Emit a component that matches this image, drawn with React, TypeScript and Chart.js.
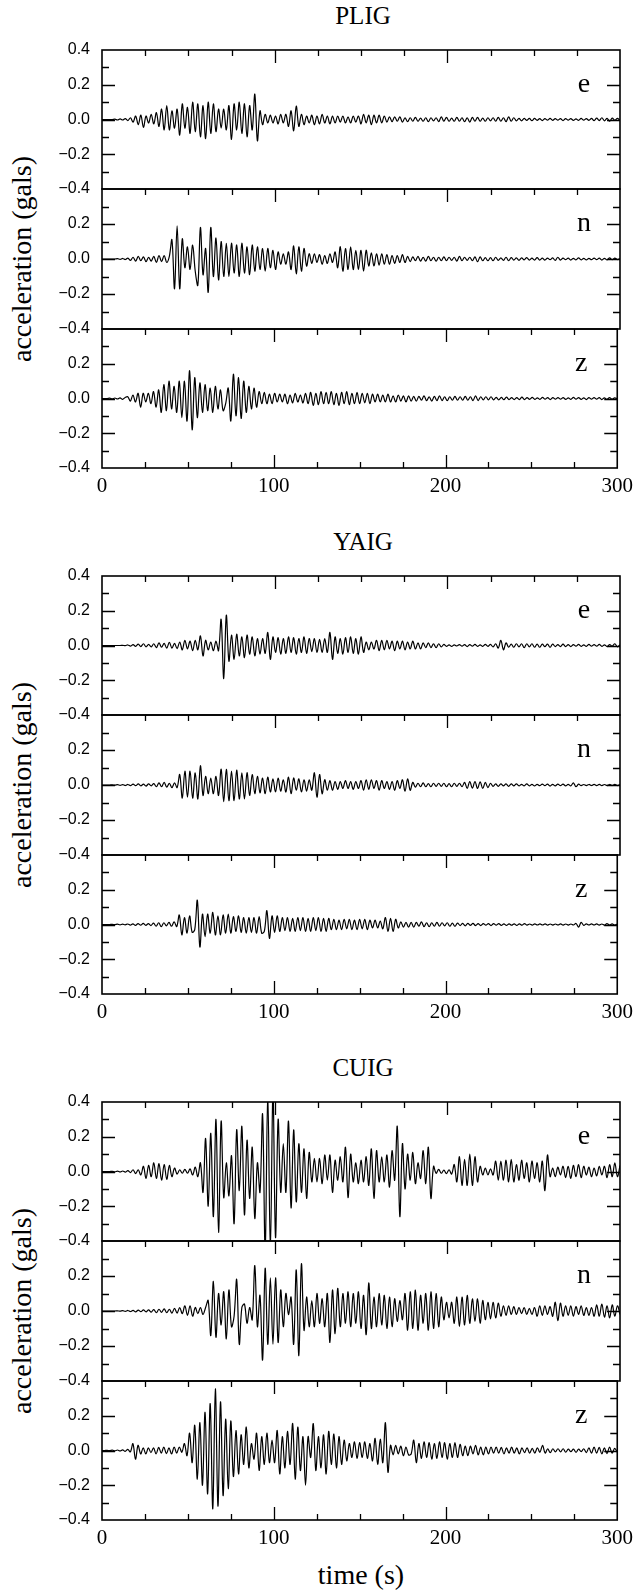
import React, { useEffect, useRef } from "react";
import { Chart, registerables } from "chart.js";

Chart.register(...registerables);

// ---- data -----------------------------------------------------------------
const SAMPLE_INTERVAL_S = 1.5; // one value every 1.5 s, 0 .. 300 s
const STATIONS = ["PLIG", "YAIG", "CUIG"];
const COMPONENTS = ["e", "n", "z"];
const X_LABEL_TICKS = [0, 100, 200, 300];
const X_MINOR_TICKS = [25, 50, 75, 100, 125, 150, 175, 200, 225, 250, 275];
const X_MAJOR_TICKS = [100, 200];
const Y_LABEL_TICKS = [-0.4, -0.2, 0, 0.2, 0.4];
const Y_MINOR_TICKS = [-0.3, -0.2, -0.1, 0, 0.1, 0.2, 0.3];
const Y_MAJOR_TICKS = [-0.2, 0, 0.2];

const PLIG_E = [
  0, 0, 0, 0, 0, .002, -.003, .004, -.003, .005,
  -.006, .01, -.015, .02, -.03, .025, -.045, .02, -.02, .03,
  -.025, .04, -.04, .06, -.06, .08, -.06, .05, -.05, .06,
  -.09, .09, -.05, .07, -.08, .1, -.07, .09, -.1, .08,
  -.11, .1, -.08, .09, -.07, .06, -.05, .06, -.06, .08,
  -.115, .09, -.06, .1, -.08, .09, -.1, .08, -.06, .146,
  -.123, .05, -.03, .03, -.02, .025, -.02, .02, -.025, .03,
  -.02, .03, -.04, .05, -.065, .077, -.04, .03, -.03, .02,
  -.02, .025, -.03, .02, -.025, .03, -.02, .02, -.025, .02,
  -.02, .02, -.015, .02, -.02, .015, -.02, .02, -.015, .02,
  -.025, .03, -.02, .025, -.03, .025, -.02, .025, -.02, .02,
  -.015, .015, -.012, .015, -.01, .015, -.015, .01, -.012, .01,
  -.01, .012, -.01, .008, -.01, .01, -.012, .01, -.008, .01,
  -.012, .015, -.01, .012, -.01, .008, -.01, .012, -.01, .01,
  -.012, .01, -.015, .012, -.01, .012, -.01, .008, -.01, .01,
  -.008, .01, -.01, .012, -.01, .01, -.012, .015, -.01, .01,
  -.008, .006, -.008, .006, -.005, .006, -.007, .006, -.005, .005,
  -.006, .005, -.004, .006, -.005, .005, -.004, .005, -.006, .005,
  -.004, .005, -.005, .004, -.005, .006, -.004, .005, -.005, .006,
  -.006, .008, -.006, .01, -.008, .006, -.01, .008, -.005, .006,
  -.005,
];
const PLIG_N = [
  0, 0, 0, 0, 0, 0, .002, -.002, .003, -.003,
  .005, -.008, .01, -.012, .015, -.01, .012, -.015, .01, -.012,
  .015, -.02, .02, -.015, .02, -.02, .015, .11, -.17, .19,
  -.17, .115, -.05, .07, -.06, .08, -.07, -.15, .18, -.09,
  .06, -.19, .18, -.1, .12, -.12, .1, -.1, .09, -.1,
  .09, -.08, .08, -.1, .09, -.08, .07, -.09, .08, -.07,
  .07, -.06, .06, -.07, .06, -.05, .05, -.06, .04, -.03,
  .03, -.03, .04, -.06, .075, -.085, .07, -.07, .06, -.04,
  .03, -.025, .03, -.02, .025, -.03, .02, -.025, .03, -.02,
  .04, -.05, .07, -.07, .06, -.06, .07, -.06, .05, -.06,
  .05, -.07, .05, -.04, .035, -.04, .03, -.035, .03, -.03,
  .025, -.03, .02, -.025, .02, -.02, .025, -.02, .015, -.015,
  .012, -.01, .015, -.012, .01, -.012, .015, -.01, .01, -.012,
  .01, -.01, .012, -.01, .01, -.008, .01, -.012, .015, -.01,
  .01, -.008, .01, -.01, .012, -.015, .012, -.01, .008, -.01,
  .008, -.01, .01, -.008, .006, -.008, .01, -.01, .008, -.006,
  .006, -.008, .006, -.005, .008, -.006, .005, -.006, .008, -.006,
  .005, -.006, .005, -.004, .006, -.008, .01, -.006, .005, -.004,
  .005, -.006, .004, -.005, .006, -.005, .004, -.005, .004, -.004,
  .005, -.004, .005, -.006, .004, -.005, .006, -.004, .005, -.003,
  .002,
];
const PLIG_Z = [
  0, 0, 0, .002, -.002, .003, -.003, .004, -.005, .006,
  .01, -.015, .02, -.02, .03, -.05, .03, -.02, .03, -.03,
  .04, -.05, .05, -.08, .08, -.07, .1, -.06, .07, -.08,
  .1, -.11, .1, -.13, .16, -.18, .12, -.11, .09, -.08,
  .08, -.07, .06, -.08, .07, -.06, .05, -.07, -.03, .06,
  -.13, .14, -.1, .12, -.115, .1, -.08, .07, -.06, .06,
  -.05, .04, -.03, .035, -.03, .025, -.03, .03, -.02, .025,
  -.02, .025, -.03, .02, -.025, .03, -.02, .02, -.025, .03,
  -.03, .035, -.04, .03, -.035, .04, -.03, .035, -.03, .04,
  -.035, .03, -.04, .035, -.03, .04, -.035, .03, -.03, .035,
  -.03, .03, -.025, .03, -.03, .025, -.02, .025, -.02, .02,
  -.02, .025, -.02, .015, -.02, .02, -.015, .015, -.02, .015,
  -.015, .012, -.015, .012, -.01, .015, -.012, .01, -.015, .012,
  -.012, .015, -.012, .01, -.012, .01, -.01, .012, -.01, .01,
  -.01, .012, -.01, .01, -.012, .015, -.012, .01, -.008, .01,
  -.008, .01, -.008, .006, -.008, .006, -.007, .008, -.006, .005,
  -.006, .005, -.006, .008, -.006, .005, -.005, .006, -.005, .004,
  -.005, .006, -.004, .005, -.006, .005, -.004, .005, -.004, .005,
  -.005, .004, -.005, .006, -.004, .005, -.005, .004, -.006, .005,
  -.004, .005, -.004, .005, -.006, .004, -.005, .005, -.004, .004,
  -.002,
];
const YAIG_E = [
  0, 0, 0, 0, 0, 0, 0, 0, .001, -.001,
  .003, -.004, .005, -.005, .008, -.006, .01, -.008, .006, -.008,
  .01, -.012, .015, -.01, .012, -.015, .018, -.015, .012, -.018,
  .02, -.025, .03, -.02, .025, -.03, .03, -.025, .055, -.06,
  .03, -.025, .02, -.03, .025, -.03, .15, -.19, .175, -.09,
  .06, -.08, .065, -.06, .05, -.07, .06, -.05, .05, -.06,
  .04, -.05, .04, -.045, .075, -.08, .05, -.04, .045, -.05,
  .04, -.045, .05, -.04, .045, -.05, .04, -.04, .05, -.045,
  .04, -.035, .04, -.04, .035, -.04, .04, -.04, .075, -.08,
  .05, -.045, .04, -.05, .045, -.04, .05, -.045, .04, -.05,
  .05, -.04, .02, -.025, .02, -.02, .03, -.03, .03, -.025,
  .03, -.02, .025, -.03, .025, -.02, .025, -.025, .02, -.02,
  .025, -.02, .015, -.02, .015, -.012, .015, -.012, .01, -.012,
  .01, -.008, .006, -.005, .004, -.005, .004, -.003, .005, -.004,
  .005, -.006, .005, -.004, .006, -.005, .004, -.005, .006, -.005,
  .006, -.008, .01, -.015, .03, -.025, .015, -.01, .008, -.01,
  .01, -.008, .01, -.012, .01, -.008, .01, -.01, .008, -.01,
  .008, -.006, .008, -.01, .008, -.006, .005, -.006, .008, -.006,
  .005, -.006, .005, -.004, .006, -.005, .004, -.005, .006, -.004,
  .005, -.004, .006, -.005, .004, -.006, .005, -.004, .01, -.008,
  .004,
];
const YAIG_N = [
  0, 0, 0, 0, .001, -.001, .002, -.002, .002, -.003,
  .003, -.004, .005, -.004, .006, -.005, .005, -.006, .006, -.005,
  .008, -.01, .012, -.01, .015, -.012, .01, -.015, .012, -.015,
  .06, -.075, .08, -.07, .08, -.075, .07, -.08, .11, -.06,
  .05, -.05, .04, -.05, .05, -.06, .09, -.095, .09, -.09,
  .08, -.09, .085, -.08, .07, -.08, .07, -.06, .06, -.05,
  .05, -.045, .04, -.05, .045, -.04, .035, -.04, .04, -.035,
  .03, -.04, .045, -.05, .04, -.03, .035, -.04, .03, -.035,
  .03, -.03, .07, -.07, .06, -.05, .03, -.03, .025, -.03,
  .02, -.025, .02, -.02, .025, -.02, .02, -.025, .02, -.02,
  .025, -.03, .03, -.025, .03, -.02, .025, -.03, .025, -.02,
  .02, -.025, .02, -.03, .025, -.02, .03, -.035, .035, -.03,
  .015, -.012, .01, -.01, .012, -.01, .008, -.01, .01, -.008,
  .01, -.008, .01, -.01, .008, -.01, .01, -.008, .01, -.01,
  .015, -.02, .02, -.018, .02, -.02, .018, -.02, .015, -.015,
  .01, -.008, .006, -.008, .006, -.005, .006, -.008, .006, -.005,
  .006, -.005, .004, -.005, .006, -.005, .004, -.005, .004, -.004,
  .005, -.004, .005, -.006, .004, -.005, .005, -.004, .005, -.005,
  .004, -.005, .012, -.01, .005, -.004, .003, -.004, .003, -.003,
  .004, -.003, .004, -.004, .003, -.004, .003, -.003, .004, -.003,
  .002,
];
const YAIG_Z = [
  0, 0, 0, 0, .001, -.001, .002, -.002, .002, -.002,
  .003, -.004, .004, -.005, .005, -.004, .006, -.005, .005, -.006,
  .008, -.01, .01, -.012, .01, -.008, .012, -.01, .015, -.012,
  .055, -.06, .04, -.05, .05, -.045, -.03, .14, -.13, .06,
  -.07, .06, -.05, .07, -.06, .05, -.06, .055, -.05, .06,
  -.05, .045, -.04, .05, -.045, .04, -.05, .04, -.045, .04,
  -.05, .045, -.05, -.04, .08, -.08, .05, -.045, .05, -.04,
  .04, -.035, .04, -.04, .035, -.04, .04, -.035, .04, -.04,
  .035, -.04, .04, -.035, .04, -.04, .035, -.04, .035, -.03,
  .03, -.03, .025, -.03, .03, -.025, .03, -.03, .025, -.03,
  .03, -.025, .03, -.03, .025, -.02, .025, -.02, .02, -.025,
  .04, -.04, .035, -.04, .03, -.02, .015, -.015, .012, -.015,
  .012, -.015, .012, -.01, .015, -.012, .01, -.012, .01, -.01,
  .012, -.01, .01, -.008, .01, -.01, .008, -.01, .008, -.006,
  .006, -.008, .006, -.005, .006, -.006, .005, -.006, .005, -.004,
  .005, -.006, .005, -.004, .005, -.005, .004, -.005, .004, -.004,
  .004, -.005, .004, -.004, .005, -.004, .003, -.004, .004, -.003,
  .004, -.003, .004, -.004, .003, -.004, .003, -.003, .004, -.004,
  .003, -.004, .003, -.003, .006, -.015, .012, -.005, .004, -.003,
  .004, -.003, .004, -.004, .003, -.004, .005, -.003, .004, -.003,
  .002,
];
const CUIG_E = [
  0, 0, 0, 0, .001, -.002, .002, -.003, .003, -.004,
  .005, -.006, .01, -.012, .01, -.02, .03, -.04, .035, -.03,
  .05, -.04, .045, -.05, .04, -.045, .035, -.03, .02, -.015,
  .01, -.01, .012, -.01, .015, -.02, .025, -.03, .05, -.12,
  .19, -.2, .22, -.26, .3, -.35, .29, -.15, .05, -.14,
  .09, -.3, .24, -.11, .26, -.25, .18, -.155, .14, -.27,
  .05, -.12, .33, -.46, .46, -.46, .46, -.38, .3, -.12,
  .16, -.12, .29, -.21, .24, -.175, .16, -.12, .13, -.155,
  .11, -.06, .075, -.06, .075, -.07, .095, -.05, .095, -.12,
  .065, -.05, .085, -.06, .14, -.15, .1, -.06, .05, -.07,
  .065, -.06, .085, -.08, .13, -.155, .12, -.06, .085, -.06,
  .095, -.09, .12, -.05, .26, -.26, .16, -.1, .1, -.05,
  .11, -.07, .05, -.04, .12, -.07, .14, -.155, .03, -.01,
  .012, -.01, .008, -.012, .01, -.015, .04, -.06, .085, -.08,
  .07, -.08, .1, -.08, .085, -.06, .03, -.02, .02, -.02,
  .015, -.02, .06, -.05, .06, -.05, .065, -.06, .07, -.06,
  .04, -.05, .065, -.04, .05, -.06, .06, -.04, .05, -.06,
  .06, -.11, .095, -.03, .02, -.03, .025, -.02, .03, -.035,
  .03, -.04, .035, -.03, .04, -.035, .03, -.02, .025, -.03,
  .02, -.025, .03, -.02, .03, -.035, .04, -.03, .05, -.03,
  .035,
];
const CUIG_N = [
  0, 0, 0, 0, 0, 0, .001, -.001, .002, -.002,
  .003, -.003, .004, -.005, .005, -.004, .006, -.005, .006, -.006,
  .008, -.01, .01, -.008, .012, -.01, .01, -.012, .015, -.012,
  .02, -.015, .03, -.025, .03, -.03, .02, -.015, .02, -.02,
  .02, .06, -.14, .17, -.15, .1, -.08, .11, -.16, .12,
  -.09, -.03, .18, -.19, .02, .04, -.07, .02, -.05, .26,
  -.09, .09, -.28, .245, -.19, .19, -.19, .19, -.18, .12,
  -.09, .1, -.02, .08, -.19, .235, -.255, .27, -.11, .08,
  -.09, .06, -.09, .1, -.07, .07, -.09, .1, -.18, .12,
  -.13, .13, -.09, .1, -.07, .11, -.09, .1, -.07, .11,
  -.1, .09, -.135, .16, -.1, .08, -.09, .1, -.08, .09,
  -.1, .08, -.09, .07, -.06, .06, -.05, .1, -.11, .11,
  -.1, .12, -.11, .09, -.07, .1, -.11, .11, -.1, .1,
  -.09, .08, -.05, .05, -.04, .05, -.07, .08, -.09, .08,
  -.08, .09, -.07, .07, -.06, .07, -.07, .06, -.05, .05,
  -.045, .05, -.04, .045, -.03, .03, -.025, .03, -.02, .025,
  -.02, .02, -.015, .02, -.02, .015, -.02, .02, -.03, .03,
  -.025, .03, -.02, .025, -.03, .05, -.055, .045, -.03, .03,
  -.025, .03, -.03, .025, -.02, .03, -.025, .02, -.025, .02,
  -.03, .035, -.03, .04, -.035, .03, -.04, .035, -.03, .03,
  -.02,
];
const CUIG_Z = [
  0, 0, .001, -.001, .002, -.002, .003, -.003, .004, -.005,
  .006, -.008, .04, -.05, .03, -.02, .015, -.02, .015, -.012,
  .015, -.02, .018, -.015, .02, -.018, .015, -.02, .02, -.015,
  .02, -.01, .04, -.03, .1, -.07, .145, -.165, .16, -.2,
  .22, -.25, .27, -.335, .355, -.32, .28, -.26, .18, -.22,
  .17, -.15, .115, -.135, .09, -.08, .135, -.1, .04, -.05,
  .1, -.115, .08, -.08, .1, -.07, .06, -.07, .115, -.135,
  .08, -.1, .11, -.08, .155, -.165, .135, -.115, .08, -.2,
  .08, -.04, .155, -.115, .08, -.1, .09, -.135, .11, -.08,
  .095, -.1, .08, -.08, .06, -.06, .04, -.04, .05, -.045,
  .045, -.04, .05, -.045, .04, -.06, .07, -.08, .065, -.07,
  .16, -.125, .03, -.025, .03, -.02, .025, -.03, .02, -.025,
  -.02, .06, -.07, .04, -.045, .05, -.04, .045, -.05, .04,
  -.045, .05, -.04, .045, -.05, .04, -.04, .045, -.04, .035,
  -.03, .025, -.03, .025, -.02, .03, -.025, .02, -.025, .02,
  -.02, .02, -.015, .02, -.015, .018, -.02, .015, -.015, .02,
  -.015, .015, -.02, .015, -.012, .015, -.015, .012, -.015, .015,
  -.01, .03, -.015, .01, -.012, .01, -.008, .01, -.008, .01,
  -.01, .008, -.006, .008, -.01, .008, -.006, .01, -.012, .015,
  -.015, .02, -.015, .018, -.02, .015, -.018, .02, -.015, .012,
  -.01,
];

const TRACES = [
  [PLIG_E, PLIG_N, PLIG_Z],
  [YAIG_E, YAIG_N, YAIG_Z],
  [CUIG_E, CUIG_N, CUIG_Z],
];

// ---- layout ---------------------------------------------------------------
const PAGE_W = 639;
const PAGE_H = 1593;
const PLOT_LEFT = 102;
const PLOT_RIGHT = 620;
const GROUP_TOPS = [50, 576, 1102];
const GROUP_H = 418;
const PAD = 30;
const X_AXIS_H = 40;
const BOTTOM_EXTRA = 70;
const SERIF = "'Liberation Serif', 'Times New Roman', serif";
const SANS = "'Liberation Sans', Arial, sans-serif";

function fmtY(v: number) {
  const s = Math.abs(v).toFixed(1);
  return v < -1e-9 ? "\u2212" + s : s;
}

const frameTicksPlugin = {
  id: "frameTicks",
  afterDraw(chart: any, _args: any, opts: any) {
    const { ctx, chartArea: a, scales } = chart;
    const xs = scales.x;
    const ys = scales.y;
    ctx.save();
    ctx.strokeStyle = "#000";
    ctx.lineWidth = 1.3;
    ctx.beginPath();
    for (const v of X_MINOR_TICKS) {
      const px = Math.round(xs.getPixelForValue(v)) + 0.5;
      const len = X_MAJOR_TICKS.includes(v) ? 13 : 6;
      ctx.moveTo(px, a.top);
      ctx.lineTo(px, a.top + len);
      if (opts.bottomTicks) {
        ctx.moveTo(px, a.bottom);
        ctx.lineTo(px, a.bottom - len);
      }
    }
    for (const v of Y_MINOR_TICKS) {
      const py = Math.round(ys.getPixelForValue(v)) + 0.5;
      const len = Y_MAJOR_TICKS.includes(v) ? 13 : 7;
      ctx.moveTo(a.left, py);
      ctx.lineTo(a.left + len, py);
      ctx.moveTo(a.right, py);
      ctx.lineTo(a.right - len, py);
    }
    ctx.stroke();
    ctx.lineWidth = 1.6;
    ctx.strokeRect(a.left, a.top, a.right - a.left, a.bottom - a.top);
    ctx.fillStyle = "#000";
    ctx.font = "28px " + SERIF;
    ctx.textAlign = "center";
    ctx.textBaseline = "alphabetic";
    ctx.fillText(opts.label, a.right - 36, ys.getPixelForValue(0.2) + 7);
    ctx.restore();
  },
};

function makeConfig(values: number[], comp: string, isLast: boolean, hideTop: boolean): any {
  const yTicks = hideTop ? Y_LABEL_TICKS.filter((v) => v < 0.39) : Y_LABEL_TICKS;
  return {
    type: "line",
    data: {
      datasets: [
        {
          data: values.map((v, i) => ({ x: i * SAMPLE_INTERVAL_S, y: v })),
          borderColor: "#000",
          borderWidth: 1.2,
          pointRadius: 0,
          tension: 0.35,
          fill: false,
          clip: 0,
        },
      ],
    },
    options: {
      responsive: false,
      maintainAspectRatio: false,
      animation: false,
      events: [],
      layout: {
        padding: {
          left: 0,
          right: PAGE_W - PLOT_RIGHT,
          top: PAD,
          bottom: isLast ? BOTTOM_EXTRA - X_AXIS_H : PAD,
        },
      },
      plugins: {
        legend: { display: false },
        tooltip: { enabled: false },
        title: { display: false },
        frameTicks: { label: comp, bottomTicks: isLast },
      },
      scales: {
        x: {
          type: "linear",
          min: 0,
          max: 300,
          display: isLast,
          grid: { display: false, drawTicks: false },
          border: { display: false },
          afterBuildTicks: (s: any) => {
            s.ticks = X_LABEL_TICKS.map((v) => ({ value: v }));
          },
          afterFit: (s: any) => {
            s.height = isLast ? X_AXIS_H : 0;
          },
          ticks: {
            autoSkip: false,
            maxRotation: 0,
            padding: 6,
            color: "#000",
            font: { family: SERIF, size: 21 },
            callback: (v: number) => String(v),
          },
        },
        y: {
          type: "linear",
          min: -0.4,
          max: 0.4,
          grid: { display: false, drawTicks: false },
          border: { display: false },
          afterBuildTicks: (s: any) => {
            s.ticks = yTicks.map((v) => ({ value: v }));
          },
          afterFit: (s: any) => {
            s.width = PLOT_LEFT;
          },
          ticks: {
            autoSkip: false,
            padding: 12,
            color: "#000",
            font: { family: SANS, size: 16 },
            callback: (v: number) => fmtY(v),
          },
        },
      },
    },
    plugins: [frameTicksPlugin],
  };
}

function subRect(g: number, s: number) {
  const top = GROUP_TOPS[g] + Math.round((s * GROUP_H) / 3);
  const bottom = GROUP_TOPS[g] + Math.round(((s + 1) * GROUP_H) / 3);
  return { top, h: bottom - top };
}

export default function App() {
  const refs = useRef<(HTMLCanvasElement | null)[]>([]);

  useEffect(() => {
    const charts: Chart[] = [];
    STATIONS.forEach((_st, g) => {
      COMPONENTS.forEach((comp, s) => {
        const c = refs.current[g * 3 + s];
        if (!c) return;
        charts.push(new Chart(c, makeConfig(TRACES[g][s], comp, s === 2, s > 0)));
      });
    });
    return () => charts.forEach((c) => c.destroy());
  }, []);

  const canvases: React.ReactNode[] = [];
  STATIONS.forEach((_st, g) => {
    COMPONENTS.forEach((_c, s) => {
      const { top, h } = subRect(g, s);
      const ch = h + PAD + (s === 2 ? BOTTOM_EXTRA : PAD);
      canvases.push(
        <canvas
          key={`c${g}${s}`}
          ref={(el) => {
            refs.current[g * 3 + s] = el;
          }}
          width={PAGE_W}
          height={ch}
          style={{ position: "absolute", left: 0, top: top - PAD, width: PAGE_W, height: ch }}
        />
      );
    });
  });

  const plotMid = (PLOT_LEFT + PLOT_RIGHT) / 2;

  return (
    <div
      style={{
        position: "absolute",
        left: 0,
        top: 0,
        width: PAGE_W,
        height: PAGE_H,
        background: "#fff",
        overflow: "hidden",
        color: "#000",
      }}
    >
      {STATIONS.map((st, g) => (
        <div
          key={`t${st}`}
          style={{
            position: "absolute",
            left: plotMid - 100 + 2,
            width: 200,
            top: GROUP_TOPS[g] - 26 - 21,
            textAlign: "center",
            fontFamily: SERIF,
            fontSize: 25,
            lineHeight: "25px",
          }}
        >
          {st}
        </div>
      ))}
      {STATIONS.map((st, g) => (
        <div
          key={`y${st}`}
          style={{
            position: "absolute",
            left: 22 - 160,
            width: 320,
            top: GROUP_TOPS[g] + GROUP_H / 2 - 14,
            height: 28,
            textAlign: "center",
            fontFamily: SERIF,
            fontSize: 28,
            lineHeight: "28px",
            transform: "rotate(-90deg)",
            transformOrigin: "50% 50%",
            whiteSpace: "nowrap",
          }}
        >
          acceleration (gals)
        </div>
      ))}
      <div
        style={{
          position: "absolute",
          left: plotMid - 100,
          width: 200,
          top: 1575 - 14,
          textAlign: "center",
          fontFamily: SERIF,
          fontSize: 28,
          lineHeight: "28px",
        }}
      >
        time (s)
      </div>
      {canvases}
    </div>
  );
}
